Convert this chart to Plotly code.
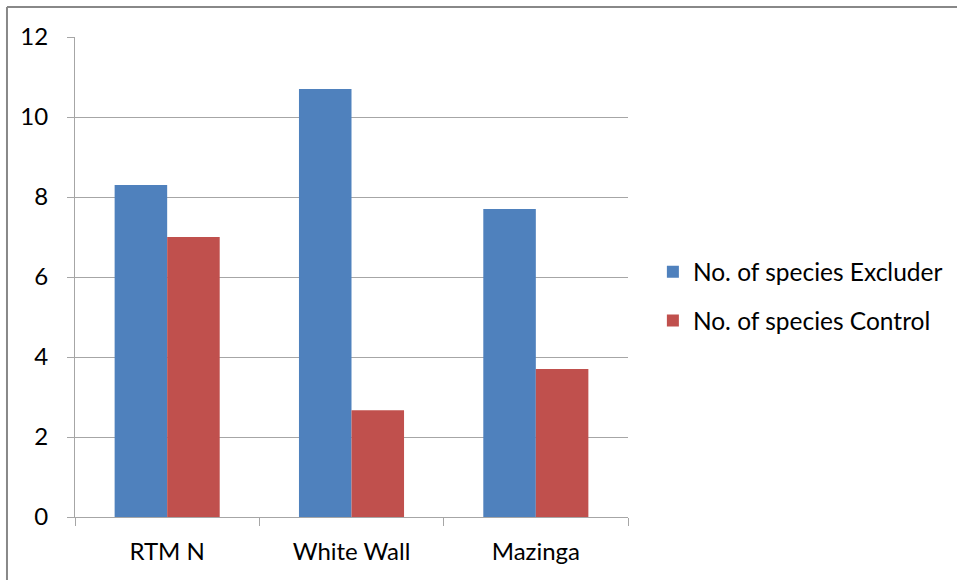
import plotly.graph_objects as go

categories = ["RTM N", "White Wall", "Mazinga"]
excluder = [8.3, 10.7, 7.7]
control = [7.0, 2.67, 3.7]
series_names = ["No. of species Excluder", "No. of species Control"]
y_ticks = [0, 2, 4, 6, 8, 10, 12]

font_family = "Lato, 'Open Sans', sans-serif"

fig = go.Figure()
fig.add_trace(go.Bar(x=categories, y=excluder, name=series_names[0],
                     legendgroup="a",
                     marker=dict(color="#4F81BD", line=dict(width=0))))
fig.add_trace(go.Bar(x=categories, y=control, name=series_names[1],
                     legendgroup="b",
                     marker=dict(color="#C0504D", line=dict(width=0))))

fig.update_layout(
    width=957, height=580,
    margin=dict(l=75, r=329, t=37, b=63, autoexpand=False),
    paper_bgcolor="white", plot_bgcolor="white",
    barmode="group", bargap=0.43, bargroupgap=0,
    font=dict(family=font_family, size=24, color="#000000"),
    legend=dict(x=1.045, y=0.46, xanchor="left", yanchor="middle",
                font=dict(size=24.5), itemwidth=30, tracegroupgap=14,
                traceorder="grouped",
                bgcolor="rgba(0,0,0,0)"),
    showlegend=True,
)
fig.update_yaxes(range=[0, 12], tickvals=y_ticks, showgrid=True,
                 gridcolor="#A6A6A6", gridwidth=1,
                 showline=True, linecolor="#A6A6A6", linewidth=1,
                 ticks="outside", ticklen=7, tickcolor="#A6A6A6",
                 ticklabelstandoff=14, zeroline=False,
                 tickfont=dict(size=24))
fig.update_xaxes(showline=True, linecolor="#A6A6A6", linewidth=1,
                 ticks="outside", ticklen=8, tickcolor="#A6A6A6",
                 tickson="boundaries", ticklabelstandoff=13,
                 tickfont=dict(size=24), showgrid=False)

# chart frame border
fig.add_shape(type="line", xref="paper", yref="paper",
              x0=-0.123, x1=-0.123, y0=1.0625, y1=-0.2,
              line=dict(color="#888888", width=2))
fig.add_shape(type="line", xref="paper", yref="paper",
              x0=-0.123, x1=1.7, y0=1.0625, y1=1.0625,
              line=dict(color="#888888", width=2))

fig.write_html("out.html")
